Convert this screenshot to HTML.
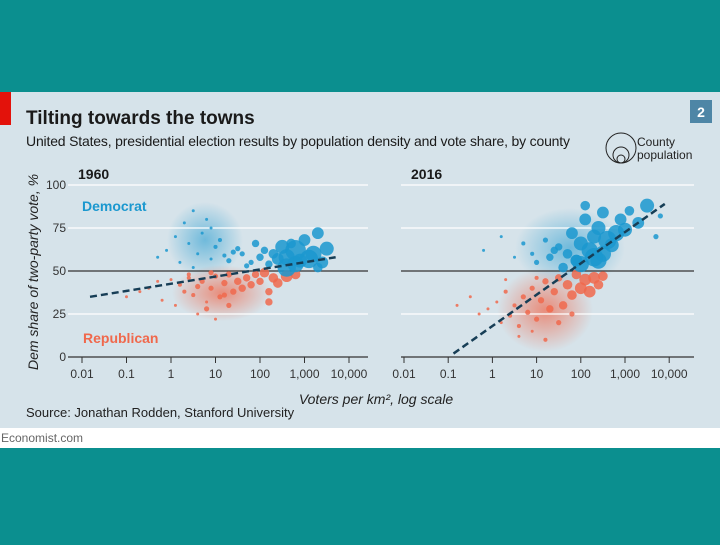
<!DOCTYPE html>
<html><head><meta charset="utf-8">
<style>
body{margin:0;width:720px;height:540px;background:#0b8f8f;overflow:hidden;font-family:"Liberation Sans",sans-serif;}
</style></head>
<body>
<svg width="720" height="540" xmlns="http://www.w3.org/2000/svg" font-family="Liberation Sans, sans-serif">
<defs>
<radialGradient id="hb"><stop offset="0" stop-color="#1b98cf" stop-opacity="0.55"/><stop offset="1" stop-color="#1b98cf" stop-opacity="0"/></radialGradient>
<radialGradient id="hr"><stop offset="0" stop-color="#f0684c" stop-opacity="0.7"/><stop offset="1" stop-color="#f0684c" stop-opacity="0"/></radialGradient>
</defs>
<rect x="0" y="92" width="720" height="336" fill="#d6e3ea"/>
<rect x="0" y="428" width="720" height="20" fill="#ffffff"/>
<text x="1" y="442" font-size="12" fill="#666">Economist.com</text>
<rect x="0" y="92" width="11" height="33" fill="#e3120b"/>
<rect x="690" y="100" width="22" height="23" fill="#4e86a6"/>
<text x="701" y="117" font-size="14" font-weight="bold" fill="#fff" text-anchor="middle">2</text>
<text x="26" y="124" font-size="19" font-weight="bold" fill="#1a1a1a">Tilting towards the towns</text>
<text x="26" y="146" font-size="14" fill="#1a1a1a" textLength="544">United States, presidential election results by population density and vote share, by county</text>
<g>
<circle cx="621" cy="148" r="15" fill="none" stroke="#222" stroke-width="1"/>
<circle cx="621" cy="155" r="8" fill="none" stroke="#222" stroke-width="1"/>
<circle cx="621" cy="159" r="4" fill="none" stroke="#222" stroke-width="1"/>
<text x="637" y="146" font-size="12" fill="#222">County</text>
<text x="637" y="159" font-size="12" fill="#222">population</text>
</g>
<g>
<ellipse cx="205" cy="240" rx="38" ry="38" fill="url(#hb)"/>
<ellipse cx="222" cy="293" rx="50" ry="28" fill="url(#hr)"/>
<ellipse cx="570" cy="248" rx="55" ry="40" fill="url(#hb)"/>
<ellipse cx="545" cy="310" rx="48" ry="42" fill="url(#hr)"/>
</g>
<text transform="translate(38,272) rotate(-90)" font-size="14" font-style="italic" fill="#222" text-anchor="middle">Dem share of two-party vote, %</text>
<text x="376" y="404" font-size="14" font-style="italic" fill="#222" text-anchor="middle">Voters per km², log scale</text>
<text x="26" y="417" font-size="13" fill="#222">Source: Jonathan Rodden, Stanford University</text>
<g id="plots"></g>
</svg>
<script>
const yTicks=[0,25,50,75,100];
const xTickVals=[-2,-1,0,1,2,3,4];
const xTickLabels=["0.01","0.1","1","10","100","1,000","10,000"];
// 1960 data: log10 density, dem share, bubble radius
const d60X=[-0.3,-0.1,0.1,0.2,0.3,0.4,0.5,0.6,0.7,0.8,0.9,1.0,1.1,1.2,1.3,1.5,1.6,1.8,1.9,2.0,2.1,2.2,2.3,2.4,2.5,2.6,2.6,2.7,2.8,2.8,2.9,3.0,3.1,3.2,3.3,3.4,3.5,3.3,0.5,0.9,1.4,1.7];
const d60Y=[58,62,70,55,78,66,85,60,72,80,57,64,68,59,56,63,60,55,66,58,62,54,60,57,64,58,52,66,62,54,56,68,57,60,72,55,63,52,52,75,61,53];
const d60R=[1,1,1,1,1,1,1,1,1,1,1,1.5,1.5,1.5,2,2,2,2,3,3,3,3,4,5,6,7,8,4,9,7,6,5,8,7,5,5,6,4,1,1,2,2];
const r60X=[-1.0,-0.7,-0.5,-0.3,-0.2,0,0.1,0.2,0.3,0.4,0.5,0.6,0.7,0.8,0.9,1.0,1.1,1.2,1.3,1.4,1.5,1.6,1.7,1.8,1.9,2.0,2.1,2.2,2.3,2.4,2.6,2.8,0.6,0.8,1.0,1.2,0.4,0.9,1.3,2.2];
const r60Y=[35,38,40,44,33,45,30,42,38,46,36,41,44,28,40,47,35,43,48,38,44,40,46,42,48,44,49,38,46,43,47,48,25,32,22,36,48,49,30,32];
const r60R=[1,1,1,1,1,1,1,1.5,1.5,1.5,1.5,2,2,2,2,2,2,2.5,2.5,2.5,3,3,3,3,3,3,4,3,4,4,5,4,1,1,1,2,1.5,2,2,3];
// 2016 data
const d16X=[-0.2,0.2,0.5,0.7,0.9,1.0,1.2,1.3,1.5,1.6,1.7,1.8,1.9,2.0,2.0,2.1,2.2,2.3,2.3,2.4,2.5,2.5,2.6,2.7,2.8,2.9,3.0,3.1,3.3,3.5,3.7,3.8,2.1,1.9,2.4,1.4];
const d16Y=[62,70,58,66,60,55,68,58,64,52,60,72,56,66,54,80,62,70,58,75,84,60,68,65,72,80,74,85,78,88,70,82,88,56,56,62];
const d16R=[1,1,1,1.5,1.5,2,2,3,3,4,4,5,5,6,7,5,7,6,8,6,5,7,8,6,7,5,6,4,5,6,2,2,4,5,7,3];
const r16X=[-0.8,-0.5,-0.3,-0.1,0.1,0.2,0.3,0.4,0.5,0.6,0.7,0.8,0.9,1.0,1.1,1.2,1.3,1.4,1.5,1.6,1.7,1.8,1.9,2.0,2.1,2.2,2.3,2.4,2.5,0.6,0.9,1.2,1.5,1.8,0.3,1.0];
const r16Y=[30,35,25,28,32,20,38,24,30,18,35,26,40,22,33,44,28,38,46,30,42,36,48,40,45,38,46,42,47,12,15,10,20,25,45,46];
const r16R=[1,1,1,1,1,1,1.5,1.5,1.5,1.5,2,2,2,2,2.5,2.5,3,3,3,3.5,4,4,4,5,5,5,5,4,4,1,1,1.5,2,2,1,1.5];
// trend endpoints [log10 x, y]
const t60=[[-1.82,35],[3.7,58]];
const t16=[[-0.88,2],[3.9,89]];

const NS="http://www.w3.org/2000/svg";
const plots=document.getElementById('plots');
function mk(tag,attrs,parent){const e=document.createElementNS(NS,tag);for(const k in attrs)e.setAttribute(k,attrs[k]);parent.appendChild(e);return e;}
function panel(cfg){
  const g=mk('g',{},plots);
  
  
  const sx=v=>cfg.x0+(v+2)*cfg.dec;
  const sy=v=>357-v*1.72;
  const yr=mk('text',{x:cfg.gx0+10,y:179,'font-size':14,'font-weight':'bold',fill:'#1a1a1a'},g);
  yr.textContent=cfg.year;
  
  
  yTicks.forEach(t=>{
    const l=mk('line',{x1:cfg.gx0,x2:cfg.gx1,y1:sy(t),y2:sy(t),stroke:t===50||t===0?'#333':'#fff','stroke-width':t===50||t===0?1.2:1.3},g);
    
    
    if(cfg.labels){const tx=mk('text',{x:66,y:sy(t)+4,'font-size':12,fill:'#333','text-anchor':'end'},g);tx.textContent=t;
      
      }
  });
  xTickVals.forEach((v,i)=>{
    mk('line',{x1:sx(v),x2:sx(v),y1:357,y2:363,stroke:'#333'},g);
    const tx=mk('text',{x:sx(v),y:378,'font-size':12,fill:'#333','text-anchor':'middle'},g);tx.textContent=xTickLabels[i];
    
    
  });
  const series=(X,Y,R,col,name)=>X.forEach((v,i)=>{
    const c=mk('circle',{cx:sx(v),cy:sy(Y[i]),r:R[i]*1.1+0.4,fill:col,'fill-opacity':0.85},g);
    
    
  });
  series(cfg.rX,cfg.rY,cfg.rR,'#f0684c','republican-county');
  series(cfg.dX,cfg.dY,cfg.dR,'#1b98cf','democrat-county');
  const tl=mk('line',{x1:sx(cfg.t[0][0]),y1:sy(cfg.t[0][1]),x2:sx(cfg.t[1][0]),y2:sy(cfg.t[1][1]),stroke:'#173e56','stroke-width':2.5,'stroke-dasharray':'7,4'},g);
  
  
}
panel({year:'1960',x0:82,dec:44.5,gx0:68,gx1:368,labels:true,dX:d60X,dY:d60Y,dR:d60R,rX:r60X,rY:r60Y,rR:r60R,t:t60});
panel({year:'2016',x0:404,dec:44.2,gx0:401,gx1:694,labels:false,dX:d16X,dY:d16Y,dR:d16R,rX:r16X,rY:r16Y,rR:r16R,t:t16});
const dem=mk('text',{x:82,y:211,'font-size':14,'font-weight':'bold',fill:'#1b98cf'},plots);dem.textContent='Democrat';


const rep=mk('text',{x:83,y:343,'font-size':14,'font-weight':'bold',fill:'#f0684c'},plots);rep.textContent='Republican';


</script>
</body></html>
